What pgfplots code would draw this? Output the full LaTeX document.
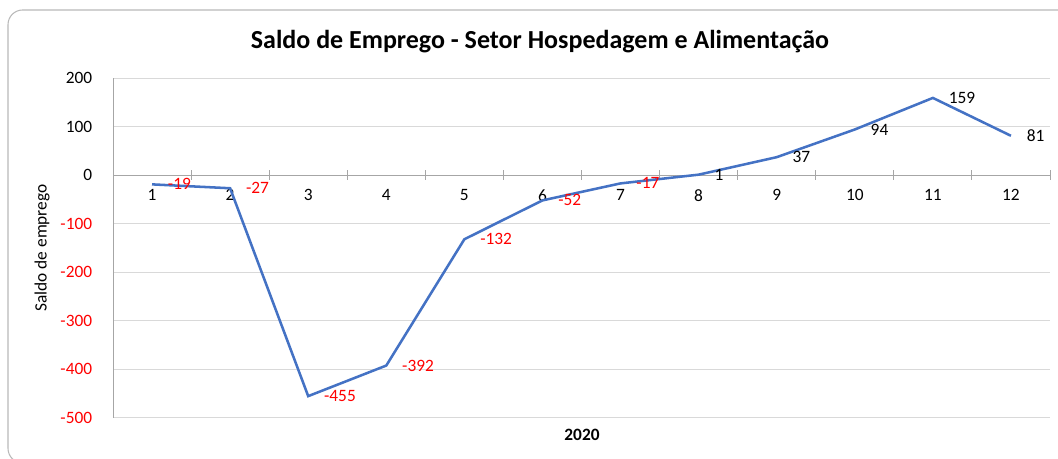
\documentclass[border=0pt]{standalone}
\usepackage{pgfplots}
\pgfplotsset{compat=1.18}
\usepackage{pgfplotstable}
\usepackage{fontspec}
\setmainfont{Carlito}

\definecolor{linecol}{HTML}{4472C4}
\definecolor{gridcol}{HTML}{D9D9D9}
\definecolor{axcol}{HTML}{A6A6A6}
\definecolor{negred}{HTML}{FF0000}

% saldo mensal de emprego, 2020
\pgfplotstableread{
mes saldo
1 -19
2 -27
3 -455
4 -392
5 -132
6 -52
7 -17
8 1
9 37
10 94
11 159
12 81
}\saldo

\begin{document}
\begin{tikzpicture}
\draw[gray!55, line width=0.8pt, rounded corners=11pt]
  (830pt,336.75pt) -- (6pt,336.75pt) -- (6pt,-3pt) -- (830pt,-3pt);
\node[font=\fontsize{19.5}{22}\selectfont\bfseries] at (405pt,312.75pt)
  {Saldo de Emprego - Setor Hospedagem e Alimentação};
\node[rotate=90, font=\fontsize{13}{15}\selectfont] at (31.5pt,158.25pt) {Saldo de emprego};
\node[font=\fontsize{13}{15}\selectfont\bfseries] at (436.5pt,18pt) {2020};

\begin{axis}[
    at={(84.75pt,30.75pt)}, anchor=south west,
    width=702.75pt, height=255pt, scale only axis,
    xmin=0.5, xmax=12.5, ymin=-500, ymax=200,
    axis x line=middle, axis y line=left,
    axis line style={-, draw=axcol, line width=0.75pt},
    hide obscured x ticks=false, hide obscured y ticks=false,
    xtick={1,...,12},
    minor xtick={0.5,1.5,...,12.5},
    major x tick style={draw=none},
    minor x tick style={draw=axcol, line width=0.75pt},
    minor tick length=7pt,
    tick align=center,
    xticklabel style={yshift=-5pt},
    ytick={-500,-400,-300,-200,-100,0,100,200},
    yticklabels={\textcolor{negred}{-500},\textcolor{negred}{-400},\textcolor{negred}{-300},
      \textcolor{negred}{-200},\textcolor{negred}{-100},0,100,200},
    ytick style={draw=none},
    yticklabel style={xshift=-10pt},
    ymajorgrids, y grid style={gridcol, line width=0.75pt},
    ticklabel style={font=\fontsize{13}{15}\selectfont},
    /pgf/number format/assume math mode=true,
    clip=false,
]
\addplot[linecol, line width=1.9pt, mark=none,
    point meta=explicit symbolic,
    nodes near coords={\ifdim\pgfplotspointmeta pt<0pt\color{negred}\fi\pgfplotspointmeta},
    every node near coord/.style={anchor=west, inner sep=0pt, xshift=11pt,
      text=black, font=\fontsize{13}{15}\selectfont}]
  table[x=mes, y=saldo, meta=saldo] {\saldo};
\end{axis}
\pgfresetboundingbox
\path[use as bounding box] (0,0) rectangle (793.5pt,344.25pt);
\end{tikzpicture}
\end{document}
